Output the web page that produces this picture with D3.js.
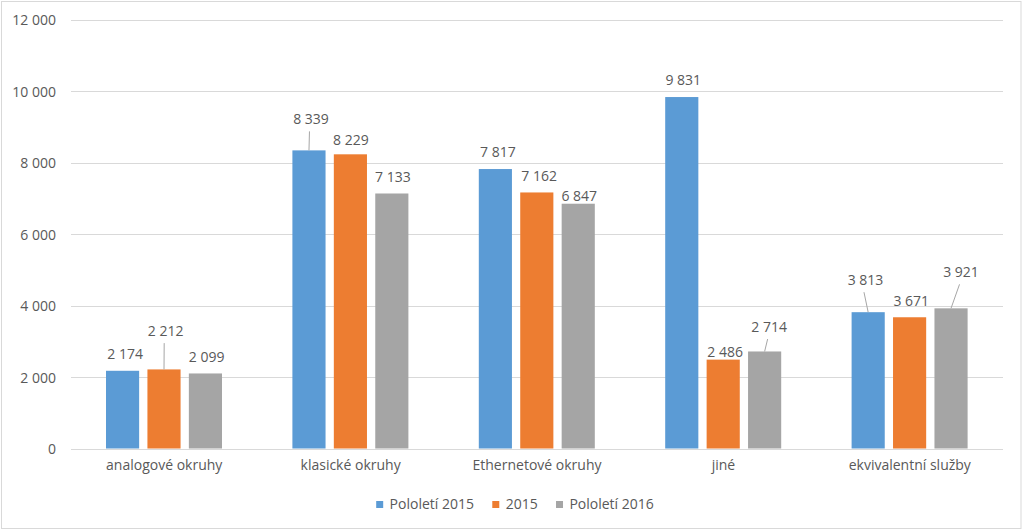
<!DOCTYPE html>
<html>
<head>
<meta charset="utf-8">
<script src="https://cdn.jsdelivr.net/npm/d3@7/dist/d3.min.js"></script>
<style>
  html, body { margin: 0; padding: 0; background: #fff; }
  svg { display: block; font-family: "Open Sans", "Noto Sans", sans-serif; }
</style>
</head>
<body>
<svg id="chart" width="1024" height="531"></svg>
<script>
// ---- data ----
const categories = ["analogové okruhy", "klasické okruhy", "Ethernetové okruhy", "jiné", "ekvivalentní služby"];
const seriesNames = ["Pololetí 2015", "2015", "Pololetí 2016"];
const valuesH1_2015 = [2174, 8339, 7817, 9831, 3813];
const values2015 = [2212, 8229, 7162, 2486, 3671];
const valuesH1_2016 = [2099, 7133, 6847, 2714, 3921];
const yTicks = [0, 2000, 4000, 6000, 8000, 10000, 12000];

// ---- style / layout (not data) ----
const colors = ["#5B9BD5", "#ED7D31", "#A5A5A5"];
// label offsets relative to bar top-centre: [dx, dy, leader]
const labelLayout = [
  [[2.5, -11.7, 0], [2, -26, 1], [2.5, -11.7, 0], [1.5, -11.7, 0], [-2.7, -27, 1]],
  [[1.7, -33.3, 1], [0.5, -9.3, 0], [2.3, -11, 0], [2, -2.7, 0], [1.7, -11, 0]],
  [[1.2, -11.6, 0], [1, -11.4, 0], [1, -2.3, 0], [4.5, -19.4, 1], [10, -31, 1]]
];

const seriesValues = [valuesH1_2015, values2015, valuesH1_2016];
const fmt = v => d3.format(",")(v).replace(/,/g, " ");

const svg = d3.select("#chart");
const textColor = "#595959";

// chart border
svg.append("rect").attr("x", 1.5).attr("y", 1.5).attr("width", 1019.5).attr("height", 1026.5 - 499.5)
  .attr("fill", "#fff").attr("stroke", "#D9D9D9").attr("stroke-width", 1);

const x0 = d3.scaleBand().domain(categories).range([71, 1003]).padding(0);
const x1 = d3.scaleBand().domain(d3.range(3)).range([35, 151]).paddingInner(0.2).paddingOuter(0);
const y = d3.scaleLinear().domain([0, 12000]).range([448.5, 19.5]);

// grid
svg.append("g").selectAll("line").data(yTicks).join("line")
  .attr("x1", 71).attr("x2", 1003)
  .attr("y1", d => Math.round(y(d)) + 0.5).attr("y2", d => Math.round(y(d)) + 0.5)
  .attr("stroke", "#D9D9D9").attr("stroke-width", 1);

// y axis labels via d3 axis
const yAxis = d3.axisLeft(y).tickValues(yTicks).tickFormat(fmt).tickSize(0).tickPadding(0);
const yg = svg.append("g").attr("transform", "translate(56,0)").call(yAxis);
yg.select(".domain").remove();
yg.selectAll("text").attr("fill", textColor).attr("font-size", 14)
  .attr("font-family", "'Open Sans', sans-serif").attr("dy", "0.36em");

// x axis labels
const xAxis = d3.axisBottom(x0).tickSize(0).tickPadding(0);
const xg = svg.append("g").attr("transform", "translate(0,460)").call(xAxis);
xg.select(".domain").remove();
xg.selectAll("text").attr("fill", textColor).attr("font-size", 14)
  .attr("font-family", "'Open Sans', sans-serif").attr("dy", "0.71em");

// bars
const bars = [];
categories.forEach((c, ci) => {
  seriesValues.forEach((vals, si) => {
    bars.push({ c, ci, si, v: vals[ci] });
  });
});

svg.append("g").selectAll("rect").data(bars).join("rect")
  .attr("x", d => x0(d.c) + x1(d.si))
  .attr("width", x1.bandwidth())
  .attr("y", d => y(d.v))
  .attr("height", d => y(0) - y(d.v))
  .attr("fill", d => colors[d.si]);

// leader lines + labels
const lg = svg.append("g");
bars.forEach(d => {
  const [dx, dy, leader] = labelLayout[d.si][d.ci];
  const bx = x0(d.c) + x1(d.si) + x1.bandwidth() / 2;
  const by = y(d.v);
  const lx = bx + dx, ly = by + dy;
  if (leader) {
    lg.append("line")
      .attr("x1", lx - 1.5).attr("y1", ly + 7)
      .attr("x2", bx).attr("y2", by)
      .attr("stroke", "#A6A6A6").attr("stroke-width", 1);
  }
  lg.append("text").attr("x", lx).attr("y", ly)
    .attr("text-anchor", "middle").attr("font-size", 14).attr("fill", textColor)
    .text(fmt(d.v));
});

// legend
const leg = svg.append("g");
const items = [];
let cx = 0;
seriesNames.forEach((n, i) => {
  const g = leg.append("g");
  g.append("rect").attr("x", 0).attr("y", -8.3).attr("width", 7).attr("height", 7).attr("fill", colors[i]);
  const t = g.append("text").attr("x", 13.4).attr("y", 0).attr("font-size", 14).attr("fill", textColor).text(n);
  const w = 13.4 + t.node().getComputedTextLength();
  g.attr("transform", `translate(${cx},0)`);
  cx += w + 18.3;
});
const total = cx - 18.3;
leg.attr("transform", `translate(${515 - total / 2},509.3)`);
</script>
</body>
</html>
